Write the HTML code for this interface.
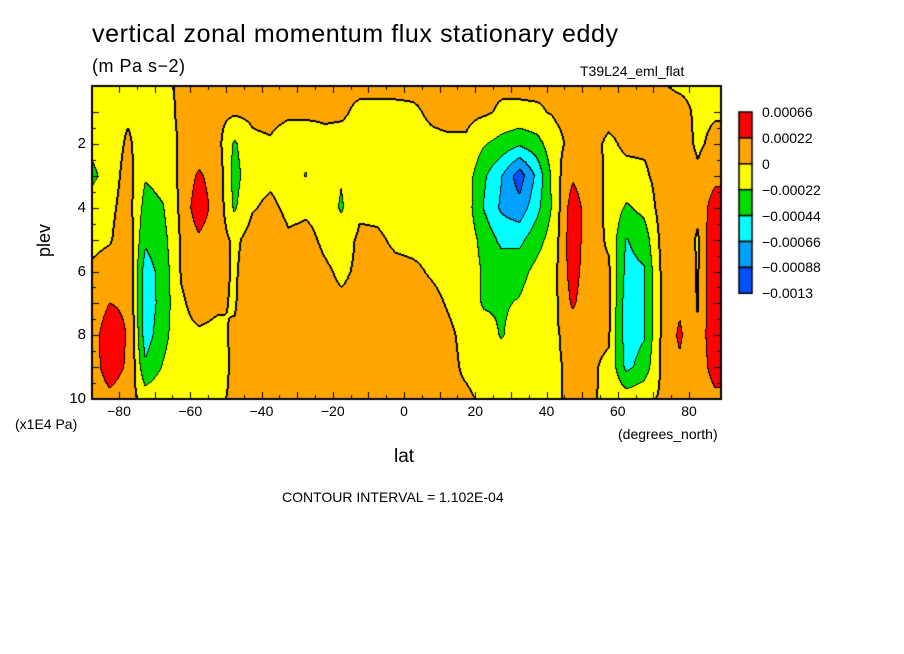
<!DOCTYPE html>
<html><head><meta charset="utf-8">
<style>
html,body{margin:0;padding:0;background:#fff;}
#wrap{position:relative;width:904px;height:654px;overflow:hidden;font-family:"Liberation Sans","DejaVu Sans",sans-serif;color:#000;}
.t{position:absolute;white-space:nowrap;}
canvas{position:absolute;left:0;top:0;}
</style></head>
<body>
<div id="wrap">
<canvas id="cv" width="904" height="654"></canvas>
<div class="t" style="left:92px;top:20px;font-size:25px;letter-spacing:0.6px">vertical zonal momentum flux stationary eddy</div>
<div class="t" style="left:92px;top:56px;font-size:18px;letter-spacing:0.5px">(m Pa s−2)</div>
<div class="t" style="left:580px;top:63px;font-size:14px">T39L24_eml_flat</div>
<div class="t" style="left:28px;top:230px;font-size:18px;transform:rotate(-90deg);transform-origin:center">plev</div>
<div class="t" style="left:15px;top:416px;font-size:14px">(x1E4 Pa)</div>
<div class="t" style="left:394px;top:446px;font-size:19px">lat</div>
<div class="t" style="left:618px;top:426px;font-size:14px">(degrees_north)</div>
<div class="t" style="left:282px;top:489px;font-size:14px">CONTOUR INTERVAL = 1.102E-04</div>
<div id="labels"></div>
</div>
<script>
const lats=[-87.5,-82.5,-77.5,-72.5,-67.5,-62.5,-57.5,-52.5,-47.5,-42.5,-37.5,-32.5,-27.5,-22.5,-17.5,-12.5,-7.5,-2.5,2.5,7.5,12.5,17.5,22.5,27.5,32.5,37.5,42.5,47.5,52.5,57.5,62.5,67.5,72.5,77.5,82.5,87.5];
const plevs=[0.2,1,2,3,4,5,6,7,8,9,10];
const field=[
[-0.5,-0.5,-1.5,-2.8,-1,-0.5,0.3,1,1.5,1.2,0.5],
[-0.5,-0.5,-1,-1,-0.5,-0.2,1,3,5,5,2],
[-0.3,-0.3,0.3,0.8,1,1.5,2,2.5,2.8,2.5,1],
[-0.3,-0.5,-1,-2,-3,-4,-5.5,-5.8,-5.5,-4,-1],
[-0.3,-0.5,-1,-1.5,-2.3,-3,-3.5,-3.5,-3,-2,-0.5],
[0.2,0.3,0.3,0.5,0.5,0.3,0.2,-0.3,-0.5,-0.5,-0.2],
[0.5,0.5,1,3.5,5,2.5,1.5,0.8,-0.3,-0.5,-0.2],
[0.5,0.5,0.8,1.5,1.5,1.2,0.8,0.3,-0.5,-1,-0.3],
[0.5,0.3,-2.5,-3,-2.5,-0.5,-0.3,-0.2,0.3,0.5,0.3],
[0.5,0.5,-0.5,-0.8,-0.2,1,1.5,2,2,1.8,1],
[0.5,0.8,-0.3,-0.5,0.5,1.5,2,2.5,2.5,2,1],
[0.5,0.5,-1.5,-1,-0.5,0.3,1,1.2,1.2,1,0.5],
[0.5,0.5,-1.5,-2.3,-0.3,0.5,1,1,1,1,0.5],
[0.3,0.3,-0.5,-0.8,-0.5,-0.3,0.3,0.5,0.8,0.8,0.5],
[0.3,0.2,-0.5,-2,-2.5,-0.8,-0.3,0.3,0.5,0.5,0.3],
[0.3,-0.3,-0.3,-0.3,-0.3,0.3,0.3,0.5,0.5,0.5,0.3],
[0.3,-0.3,-0.5,-0.5,-0.3,0.2,0.5,0.5,0.5,0.5,0.3],
[0.3,-0.3,-0.5,-0.5,-0.5,-0.2,0.3,0.5,0.5,0.5,0.3],
[0.3,-0.2,-0.5,-0.5,-0.5,-0.3,0.2,0.5,0.5,0.5,0.3],
[0.2,0.2,-0.3,-0.5,-0.5,-0.3,-0.1,0.3,0.5,0.5,0.3],
[0.3,0.5,-0.3,-0.5,-0.5,-0.3,-0.3,-0.1,0.2,0.3,0.2],
[0.3,0.5,-0.3,-1,-1,-0.8,-0.6,-0.5,-0.3,-0.2,0.2],
[0.3,0.3,-2,-4,-4.5,-3,-2.5,-2.5,-1,-0.5,-0.2],
[0.3,-0.3,-3,-6.5,-7,-5,-3,-2.5,-2.4,-0.8,-0.3],
[0.3,-0.3,-4,-10,-8,-5,-3,-2,-1,-0.5,-0.3],
[0.3,-0.2,-3,-6,-5,-3,-1.5,-0.8,-0.5,-0.5,-0.2],
[0.3,0.2,-0.5,-1,-1.5,-1,-0.5,-0.5,-0.3,-0.3,-0.2],
[0.3,0.5,0.5,2.5,4.8,5,4.6,3.5,1,0.5,0.3],
[0.3,0.5,0.5,1,1,0.8,0.5,0.5,0.3,0.2,0.1],
[0.3,0.5,-0.3,-0.5,-0.5,-0.3,0.3,0.3,0.2,-0.3,-0.2],
[0.3,0.5,0.3,-0.5,-2.5,-4.5,-5,-5.5,-5.5,-5,-1],
[0.3,0.5,0.3,-0.3,-1.5,-3.5,-4.6,-4.6,-4.6,-3.5,-0.5],
[0.1,0.5,0.5,0.8,1,0.8,0.5,0.5,0.5,0.5,0.3],
[-0.2,0.5,0.8,1.5,1.5,1.5,2,2.5,3.5,2.5,1],
[-0.3,-0.3,-0.3,0.3,0.5,-0.3,-0.2,-0.2,0.3,0.3,0.3],
[-0.3,-0.2,0.5,2,5,6,6,6,6,5,2]
];
const levels=[-8.8,-6.6,-4.4,-2.2,0,3.0];
const levelColors=[[0,80,255],[0,160,255],[0,255,255],[0,220,0],[255,255,0],[255,165,0],[255,0,0]];
const legendLabels=["0.00066","0.00022","0","−0.00022","−0.00044","−0.00066","−0.00088","−0.0013"];
const xTicks=[-80,-60,-40,-20,0,20,40,60,80];
const yTicks=[2,4,6,8,10];

const L=92,R=721,T=86,B=399;
const xs=lat=>404+lat*3.5625;
const ys=p=>144+(p-2)*31.875;
const latOf=x=>(x-404)/3.5625;
const pOf=y=>2+(y-144)/31.875;

function val(lat,p){
  let i=(lat-lats[0])/5; i=Math.max(0,Math.min(lats.length-1.0001,i));
  let i0=Math.floor(i),fx=i-i0;
  let j=0; if(p<=plevs[0]) {j=0;} else if(p>=plevs[plevs.length-1]) {j=plevs.length-1.0001;} else {
    for(let k=0;k<plevs.length-1;k++){ if(p>=plevs[k]&&p<=plevs[k+1]){ j=k+(p-plevs[k])/(plevs[k+1]-plevs[k]); break; } }
  }
  let j0=Math.floor(j),fy=j-j0;
  const a=field[i0][j0],b=field[i0+1][j0],c=field[i0][j0+1],d=field[i0+1][j0+1];
  return a*(1-fx)*(1-fy)+b*fx*(1-fy)+c*(1-fx)*fy+d*fx*fy;
}
function cls(v){let k=0;while(k<levels.length&&v>levels[k])k++;return k;}

const cv=document.getElementById('cv');const ctx=cv.getContext('2d');
const W=R-L,H=B-T;
const img=ctx.createImageData(W,H);
const C=new Array(W*H),V=new Array(W*H);
for(let y=0;y<H;y++)for(let x=0;x<W;x++){const v=val(latOf(L+x+0.5),pOf(T+y+0.5));V[y*W+x]=v;C[y*W+x]=cls(v);}
for(let y=0;y<H;y++)for(let x=0;x<W;x++){
  const k=y*W+x;let col=levelColors[C[k]];
  const c=C[k];
  let edge=false,zero=false;
  if(x+1<W&&C[k+1]!==c)edge=true;
  if(y+1<H&&C[k+W]!==c)edge=true;
  const s=V[k]>0;
  if((x+1<W&&(V[k+1]>0)!==s)||(y+1<H&&(V[k+W]>0)!==s)||(x>0&&(V[k-1]>0)!==s)||(y>0&&(V[k-W]>0)!==s))zero=true;
  if(edge||zero)col=[0,0,0];
  img.data[k*4]=col[0];img.data[k*4+1]=col[1];img.data[k*4+2]=col[2];img.data[k*4+3]=255;
}
ctx.putImageData(img,L,T);
ctx.strokeStyle='#000';ctx.lineWidth=2;ctx.strokeRect(L,T,W,H);
ctx.lineWidth=1;
for(let lat=-80;lat<=80;lat+=5){const x=Math.round(xs(lat))+0.5;const len=lat%10===0?7:4;
  ctx.beginPath();ctx.moveTo(x,B);ctx.lineTo(x,B-len);ctx.moveTo(x,T);ctx.lineTo(x,T+len);ctx.stroke();}
for(let p=1;p<=10;p+=0.5){const y=Math.round(ys(p))+0.5;const len=p%1===0?7:4;
  ctx.beginPath();ctx.moveTo(L,y);ctx.lineTo(L+len,y);ctx.moveTo(R,y);ctx.lineTo(R-len,y);ctx.stroke();}
const lx=739,ly=112,lh=25.9;
for(let i=0;i<levelColors.length;i++){
  const c=levelColors[levelColors.length-1-i];
  ctx.fillStyle='rgb('+c.join(',')+')';ctx.fillRect(lx,ly+i*lh,13,lh);
  ctx.strokeStyle='#000';ctx.lineWidth=1.5;ctx.strokeRect(lx,ly+i*lh,13,lh);
}
const lab=document.getElementById('labels');
function addText(txt,x,y,size,name,align){
  const d=document.createElement('div');d.className='t';d.textContent=txt;
  d.style.left=x+'px';d.style.top=y+'px';d.style.fontSize=size+'px';
  if(align==='right'){d.style.transform='translateX(-100%)';}
  if(align==='center'){d.style.transform='translateX(-50%)';}
  
  
  lab.appendChild(d);
}
legendLabels.forEach((t,i)=>addText(t,762,ly+i*lh-8,14,'legend-label','left'));
xTicks.forEach(v=>addText(v<0?'−'+(-v):String(v),xs(v),403,14,'x-tick-label','center'));
yTicks.forEach(v=>addText(String(v),86,ys(v)-9,15,'y-tick-label','right'));
</script>
</body></html>
